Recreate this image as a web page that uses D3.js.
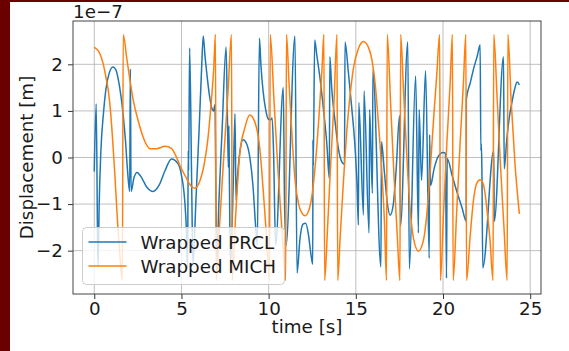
<!DOCTYPE html>
<html>
<head>
<meta charset="utf-8">
<script src="https://cdn.jsdelivr.net/npm/d3@7"></script>
<style>
  body { margin: 0; background: #fff; }
  text { font-family: "DejaVu Sans", sans-serif; }
</style>
</head>
<body>
<div id="chart"></div>
<script>
// time [s] and wrapped displacement [1e-7 m]
var prclT = [0.00,0.11,0.19,0.22,0.28,0.38,0.53,0.67,0.84,1.07,1.24,1.39,1.53,1.66,1.79,1.90,2.03,2.07,2.11,2.28,
  2.45,2.68,3.02,3.37,3.71,4.06,4.43,4.80,4.99,5.19,5.28,5.35,5.39,5.41,5.47,5.58,5.66,5.83,6.01,6.15,
  6.25,6.35,6.47,6.61,6.75,6.84,6.92,6.98,7.03,7.15,7.33,7.56,7.64,7.69,7.72,7.75,7.81,7.96,8.07,8.13,
  8.22,8.36,8.53,8.73,8.93,9.10,9.25,9.35,9.47,9.56,9.68,9.82,9.97,10.11,10.20,10.28,10.40,10.84,10.91,11.00,
  11.51,11.63,11.80,11.97,12.12,12.29,12.43,12.53,12.54,12.56,12.64,12.76,12.95,13.14,13.34,13.48,13.51,13.62,13.81,14.00,
  14.19,14.35,14.38,14.57,14.77,14.96,15.07,15.15,15.17,15.44,15.47,15.76,15.79,15.95,15.98,16.44,16.47,16.63,16.80,16.97,
  17.14,17.31,17.51,17.56,17.98,18.07,18.43,18.59,18.63,18.77,19.00,19.21,19.23,19.29,19.49,19.72,20.01,20.14,20.20,20.24,
  20.52,20.81,21.10,21.33,21.34,21.56,21.78,21.98,22.13,22.17,22.20,22.23,22.28,22.91,22.94,23.47,23.51,23.65,23.79,23.97,
  24.11,24.25,24.38];
var prclV = [-0.30,1.15,-1.77,-2.33,-1.03,0.15,0.96,1.47,1.79,1.94,1.88,1.65,1.32,0.90,0.36,-0.24,-0.73,1.90,-0.73,-0.43,
  -0.32,-0.41,-0.64,-0.73,-0.60,-0.28,-0.03,-0.13,-0.36,-0.94,-1.52,-2.37,0.15,-0.28,2.35,-0.38,-2.31,-0.92,0.58,1.86,
  2.61,2.18,1.75,1.32,1.05,1.00,1.13,-0.92,-2.24,-0.92,0.58,2.37,0.79,-0.21,0.68,-0.49,-2.31,-0.71,0.94,-0.92,
  -0.38,0.15,0.38,0.30,-0.02,-0.60,-1.45,-1.88,2.56,1.97,1.43,1.05,0.83,0.81,0.85,0.15,-1.88,1.50,-0.92,-1.88,
  2.61,-2.48,-1.73,-1.43,-1.41,-1.67,-2.09,-2.29,0.38,-0.17,2.52,2.20,1.69,1.05,0.28,-0.45,2.16,1.47,0.77,0.19,
  -0.09,-0.15,2.48,1.84,1.05,0.19,-0.60,-1.45,1.18,-1.24,1.43,-1.62,1.03,-0.77,1.90,-2.35,0.34,-0.28,-0.96,-1.24,
  -1.03,-0.28,0.90,-1.47,2.48,-2.39,1.75,-1.62,1.03,-0.49,1.86,-2.16,0.49,-0.60,-0.24,0.02,0.11,0.09,-2.59,-0.02,
  -0.38,-0.75,-1.09,-1.37,1.26,1.60,1.94,2.20,2.42,0.15,0.30,-0.24,-2.37,0.15,-1.37,2.16,-0.24,0.36,0.83,1.22,
  1.47,1.62,1.56];

var michT = [0.00,0.33,0.52,0.67,0.80,0.92,1.04,1.17,1.29,1.45,1.61,1.66,1.86,2.05,2.24,2.52,2.81,3.20,3.58,4.06,
  4.44,4.66,4.90,5.28,5.52,5.76,6.05,6.33,6.52,6.71,6.85,6.95,6.99,7.21,7.44,7.67,7.87,7.91,8.10,8.34,
  8.63,8.92,9.20,9.49,9.68,9.88,10.05,10.09,10.31,10.54,10.77,10.98,11.02,11.17,11.35,11.52,11.72,11.92,12.09,12.29,
  12.49,12.69,12.89,13.06,13.17,13.21,13.38,13.55,13.75,13.92,13.96,14.10,14.29,14.48,14.67,14.86,15.15,15.43,15.72,15.91,
  16.10,16.29,16.49,16.64,16.76,16.80,16.99,17.19,17.38,17.53,17.57,17.73,17.92,18.11,18.30,18.59,18.87,19.07,19.26,19.45,
  19.64,19.81,19.85,20.03,20.22,20.41,20.54,20.58,20.78,20.98,21.17,21.31,21.35,21.55,21.74,21.94,22.13,22.32,22.51,22.70,
  22.87,22.91,23.10,23.30,23.51,23.68,23.72,23.91,24.14,24.38];
var michV = [2.37,2.22,2.00,1.72,1.45,1.05,0.45,-0.30,-1.10,-2.00,-2.64,2.64,2.14,1.65,1.22,0.79,0.43,0.19,0.19,0.24,
  0.19,0.05,-0.16,-0.44,-0.60,-0.66,-0.51,-0.09,0.41,1.20,1.91,2.64,-2.64,-1.30,0.10,1.40,2.64,-2.64,-1.30,0.06,
  0.63,0.91,0.77,0.20,-0.66,-1.70,-2.64,2.64,1.20,-0.30,-1.60,-2.64,2.64,1.60,0.40,-0.50,-1.00,-1.20,-1.25,-1.15,
  -0.80,-0.10,0.90,1.90,2.64,-2.64,-1.50,-0.20,1.20,2.64,-2.64,-1.72,-0.51,0.56,1.34,1.91,2.34,2.49,2.37,2.12,
  1.62,0.77,-0.30,-1.37,-2.64,2.64,1.20,-0.40,-1.70,-2.64,2.64,1.48,0.06,-1.08,-1.72,-2.01,-1.79,-1.22,-0.30,0.77,
  1.77,2.64,-2.64,-1.20,0.30,1.60,2.64,-2.64,-1.20,0.30,1.60,2.64,-2.64,-1.72,-0.94,-0.55,-0.48,-0.58,-1.08,-1.79,
  -2.64,2.64,1.30,-0.20,-1.60,-2.64,2.64,1.20,-0.20,-1.21];

var xTicks = [0, 5, 10, 15, 20, 25];
var yTicks = [-2, -1, 0, 1, 2];
var seriesNames = ["Wrapped PRCL", "Wrapped MICH"];
var seriesColors = ["#1f77b4", "#ff7f0e"];

// zip time + value arrays
function zip(t, v) {
  return t.map(function(d, i) { return { t: d, v: v[i] }; });
}
var series = [zip(prclT, prclV), zip(michT, michV)];

var W = 569, H = 351;
var fs = "18.3px";
var margin = { top: 21, right: 28, bottom: 57, left: 73 },
    width = W - margin.left - margin.right,
    height = H - margin.top - margin.bottom;

var root = d3.select("#chart").append("svg")
    .attr("width", W)
    .attr("height", H);

// dark red frame of the screenshot
root.append("rect").attr("x", 0).attr("y", 0).attr("width", W).attr("height", H).attr("fill", "#fff");
root.append("rect").attr("x", 0).attr("y", 0).attr("width", 10).attr("height", H).attr("fill", "#6b0000");
root.append("rect").attr("x", 0).attr("y", 0).attr("width", W).attr("height", 2).attr("fill", "#6b0000");

var svg = root.append("g")
    .attr("transform", "translate(" + margin.left + "," + margin.top + ")");

var x = d3.scaleLinear().domain([-1.22, 25.62]).range([0, width]);
var y = d3.scaleLinear().domain([-2.93, 2.93]).range([height, 0]);

// grid
svg.append("g").selectAll("line").data(xTicks).enter().append("line")
    .attr("x1", function(d) { return x(d); }).attr("x2", function(d) { return x(d); })
    .attr("y1", 0).attr("y2", height)
    .attr("stroke", "#b0b0b0").attr("stroke-width", 0.8);
svg.append("g").selectAll("line").data(yTicks).enter().append("line")
    .attr("y1", function(d) { return y(d); }).attr("y2", function(d) { return y(d); })
    .attr("x1", 0).attr("x2", width)
    .attr("stroke", "#b0b0b0").attr("stroke-width", 0.8);

// lines
svg.append("clipPath").attr("id", "clip")
  .append("rect").attr("width", width).attr("height", height);

var line = d3.line()
    .x(function(d) { return x(d.t); })
    .y(function(d) { return y(d.v); })
    .curve(d3.curveMonotoneX);

svg.append("g").attr("clip-path", "url(#clip)")
  .selectAll("path").data(series).enter().append("path")
    .attr("d", line)
    .attr("fill", "none")
    .attr("stroke", function(d, i) { return seriesColors[i]; })
    .attr("stroke-width", 1.5)
    .attr("stroke-linejoin", "round");

// axes
var fmt = function(d) { return d < 0 ? "\u2212" + Math.abs(d) : String(d); };

var gx = svg.append("g")
    .attr("transform", "translate(0," + height + ")")
    .call(d3.axisBottom(x).tickValues(xTicks).tickSize(5).tickPadding(3).tickFormat(fmt));
var gy = svg.append("g")
    .call(d3.axisLeft(y).tickValues(yTicks).tickSize(5).tickPadding(5).tickFormat(fmt));

[gx, gy].forEach(function(g) {
  g.select(".domain").remove();
  g.selectAll(".tick line").attr("stroke", "#333").attr("stroke-width", 1);
  g.selectAll(".tick text")
    .attr("font-family", "DejaVu Sans")
    .attr("font-size", fs)
    .attr("fill", "#1a1a1a");
});

// frame
svg.append("rect")
    .attr("width", width).attr("height", height)
    .attr("fill", "none").attr("stroke", "#444").attr("stroke-width", 1);

// labels
root.append("text")
    .attr("x", margin.left + width / 2).attr("y", 333)
    .attr("text-anchor", "middle")
    .attr("font-size", fs).attr("fill", "#1a1a1a")
    .text("time [s]");

root.append("text")
    .attr("transform", "translate(33," + (margin.top + height / 2) + ") rotate(-90)")
    .attr("text-anchor", "middle")
    .attr("font-size", fs).attr("fill", "#1a1a1a")
    .text("Displacement [m]");

root.append("text")
    .attr("x", margin.left).attr("y", 18)
    .attr("font-size", fs).attr("fill", "#1a1a1a")
    .text("1e\u22127");

// legend
var lg = root.append("g").attr("transform", "translate(82.5,227.5)");
lg.append("rect")
    .attr("width", 202).attr("height", 57).attr("rx", 4)
    .attr("fill", "#fff").attr("fill-opacity", 0.8)
    .attr("stroke", "#ccc");
var items = lg.selectAll(".item").data(seriesNames).enter().append("g")
    .attr("transform", function(d, i) { return "translate(0," + (14.5 + i * 24) + ")"; });
items.append("line")
    .attr("x1", 6).attr("x2", 44)
    .attr("stroke", function(d, i) { return seriesColors[i]; })
    .attr("stroke-width", 1.5);
items.append("text")
    .attr("x", 58).attr("y", 6.5)
    .attr("font-size", fs).attr("fill", "#1a1a1a")
    .text(function(d) { return d; });
</script>
</body>
</html>
